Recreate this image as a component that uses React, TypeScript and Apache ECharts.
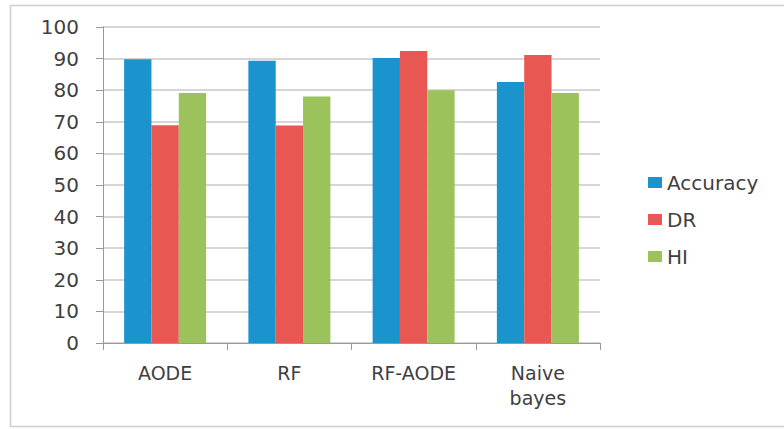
import React, { useEffect, useRef } from "react";
import * as echarts from "echarts";

const categories = ["AODE", "RF", "RF-AODE", "Naive\nbayes"];
const accuracy = [89.8, 89.3, 90.2, 82.6];
const dr = [68.9, 68.8, 92.4, 91.1];
const hi = [79.1, 78.0, 80.0, 79.1];
const yTicks = { min: 0, max: 100, interval: 10 };

export default function App() {
  const ref = useRef<HTMLDivElement>(null);
  useEffect(() => {
    if (!ref.current) return;
    const chart = echarts.init(ref.current, undefined, { renderer: "svg" });
    const font = "'DejaVu Sans', Verdana, sans-serif";
    const txt = "#3f3f3f";
    chart.setOption({
      animation: false,
      backgroundColor: "#ffffff",
      textStyle: { fontFamily: font },
      graphic: [
        {
          type: "rect",
          shape: { x: 10.5, y: 5.5, width: 790, height: 421 },
          style: { fill: "none", stroke: "#d0d0d0", lineWidth: 1.5 },
          silent: true,
        },
      ],
      grid: { left: 103, right: 184, top: 27, bottom: 86, containLabel: false },
      legend: {
        orient: "vertical",
        left: 643,
        top: 167,
        itemWidth: 14,
        itemHeight: 11,
        itemGap: 16,
        icon: "rect",
        textStyle: { fontSize: 20, color: txt, fontFamily: font, lineHeight: 21 },
        data: ["Accuracy", "DR", "HI"],
      },
      xAxis: {
        type: "category",
        data: categories,
        axisLine: { lineStyle: { color: "#9a9a9a", width: 1 } },
        axisTick: { show: true, length: 7, lineStyle: { color: "#9a9a9a" } },
        axisLabel: { fontSize: 19, color: txt, margin: 17, lineHeight: 25, fontFamily: font },
      },
      yAxis: {
        type: "value",
        min: yTicks.min,
        max: yTicks.max,
        interval: yTicks.interval,
        axisLine: { show: true, lineStyle: { color: "#9a9a9a" } },
        axisTick: { show: true, length: 7, lineStyle: { color: "#9a9a9a" } },
        splitLine: { lineStyle: { color: "#c8c8c8", width: 1.5 } },
        axisLabel: { fontSize: 20, color: txt, margin: 24, fontFamily: font },
      },
      series: [
        { name: "Accuracy", type: "bar", data: accuracy, itemStyle: { color: "#1b93cd" }, barGap: "0%", barCategoryGap: "34%" },
        { name: "DR", type: "bar", data: dr, itemStyle: { color: "#e95752" }, barGap: "0%", barCategoryGap: "34%" },
        { name: "HI", type: "bar", data: hi, itemStyle: { color: "#9cc35b" }, barGap: "0%", barCategoryGap: "34%" },
      ],
    });
    return () => chart.dispose();
  }, []);
  return (
    <div
      ref={ref}
      style={{ width: 784, height: 429, position: "fixed", left: 0, top: 0 }}
    />
  );
}
